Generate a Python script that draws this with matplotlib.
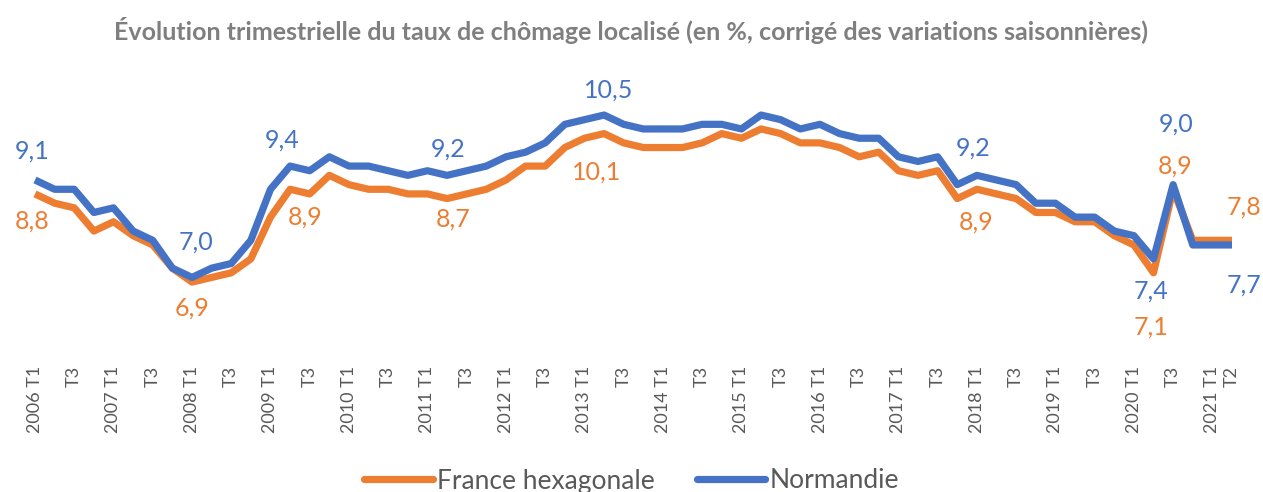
import matplotlib
matplotlib.use("Agg")
import matplotlib.pyplot as plt
from matplotlib.lines import Line2D

plt.rcParams['font.family'] = ['Lato', 'DejaVu Sans']

title = "Évolution trimestrielle du taux de chômage localisé (en %, corrigé des variations saisonnières)"

# Quarterly series 2006 T1 .. 2021 T2 (62 quarters)
france = [8.8, 8.6, 8.5, 8.0, 8.2, 7.9, 7.7, 7.2,
          6.9, 7.0, 7.1, 7.4, 8.3, 8.9, 8.8, 9.2,
          9.0, 8.9, 8.9, 8.8, 8.8, 8.7, 8.8, 8.9,
          9.1, 9.4, 9.4, 9.8, 10.0, 10.1, 9.9, 9.8,
          9.8, 9.8, 9.9, 10.1, 10.0, 10.2, 10.1, 9.9,
          9.9, 9.8, 9.6, 9.7, 9.3, 9.2, 9.3, 8.7,
          8.9, 8.8, 8.7, 8.4, 8.4, 8.2, 8.2, 7.9,
          7.7, 7.1, 8.9, 7.8, 7.8, 7.8]
normandie = [9.1, 8.9, 8.9, 8.4, 8.5, 8.0, 7.8, 7.2,
             7.0, 7.2, 7.3, 7.8, 8.9, 9.4, 9.3, 9.6,
             9.4, 9.4, 9.3, 9.2, 9.3, 9.2, 9.3, 9.4,
             9.6, 9.7, 9.9, 10.3, 10.4, 10.5, 10.3, 10.2,
             10.2, 10.2, 10.3, 10.3, 10.2, 10.5, 10.4, 10.2,
             10.3, 10.1, 10.0, 10.0, 9.6, 9.5, 9.6, 9.0,
             9.2, 9.1, 9.0, 8.6, 8.6, 8.3, 8.3, 8.0,
             7.9, 7.4, 9.0, 7.7, 7.7, 7.7]

tick_positions = list(range(0, 62, 2)) + [61]
tick_labels = ["2006 T1", "T3", "2007 T1", "T3", "2008 T1", "T3", "2009 T1", "T3",
               "2010 T1", "T3", "2011 T1", "T3", "2012 T1", "T3", "2013 T1", "T3",
               "2014 T1", "T3", "2015 T1", "T3", "2016 T1", "T3", "2017 T1", "T3",
               "2018 T1", "T3", "2019 T1", "T3", "2020 T1", "T3", "2021 T1", "T2"]

# labelled points: (index, pixel offset x, pixel offset y [down positive])
labels_norm = [(0, -3, -29), (8, 4, -35), (13, -8, -26), (21, 1, -26), (29, 5, -25),
               (48, -4, -27), (57, -3, 32), (58, 3, -61), (61, 12, 40)]
labels_fr = [(0, -3, 27), (8, 0, 26), (13, 15, 28), (21, 6, 21), (29, -7, 38),
             (48, -1, 33), (57, -3, 54), (58, 2, -23), (61, 12, -33)]

c_fr = "#ED7D31"
c_no = "#4472C4"
grey = "#595959"

W, H = 1263, 492
fig = plt.figure(figsize=(W / 100, H / 100), dpi=100)
ax = fig.add_axes([35 / W, 1 - 355 / H, (1232 - 35) / W, (355 - 60) / H])
x = list(range(len(france)))
ax.plot(x, france, color=c_fr, lw=5.2, solid_joinstyle='round', solid_capstyle='butt', clip_on=False)
ax.plot(x, normandie, color=c_no, lw=5.2, solid_joinstyle='round', solid_capstyle='butt', clip_on=False)

pxu = 46.4
ax.set_xlim(0, 61)
ax.set_ylim(9.1 - 175 / pxu, 9.1 + 120 / pxu)
for s in ax.spines.values():
    s.set_visible(False)
ax.set_yticks([])
ax.set_xticks(tick_positions)
ax.set_xticklabels(tick_labels, rotation=90, fontsize=13, color=grey)
ax.tick_params(axis='x', length=0, pad=8)

for i, dx, dy in labels_norm:
    ax.annotate(f"{normandie[i]:.1f}".replace('.', ','), (i, normandie[i]),
                xytext=(dx, -dy), textcoords='offset pixels', ha='center', va='center',
                fontsize=18, color=c_no, annotation_clip=False)
for i, dx, dy in labels_fr:
    ax.annotate(f"{france[i]:.1f}".replace('.', ','), (i, france[i]),
                xytext=(dx, -dy), textcoords='offset pixels', ha='center', va='center',
                fontsize=18, color=c_fr, annotation_clip=False)

fig.text(0.5, 1 - 30 / H, title, ha='center', va='center', fontsize=18,
         fontweight='bold', color="#7F7F7F")

handles = [Line2D([], [], color=c_fr, lw=5.2, solid_capstyle='round'),
           Line2D([], [], color=c_no, lw=5.2, solid_capstyle='round')]
leg = fig.legend(handles, ["France hexagonale", "Normandie"], loc='center',
                 bbox_to_anchor=(0.5, 1 - 481 / H), ncol=2, frameon=False, fontsize=19,
                 handlelength=2.6, handletextpad=0.15, columnspacing=1.6)
for t in leg.get_texts():
    t.set_color(grey)

fig.savefig("out.png", dpi=100)
